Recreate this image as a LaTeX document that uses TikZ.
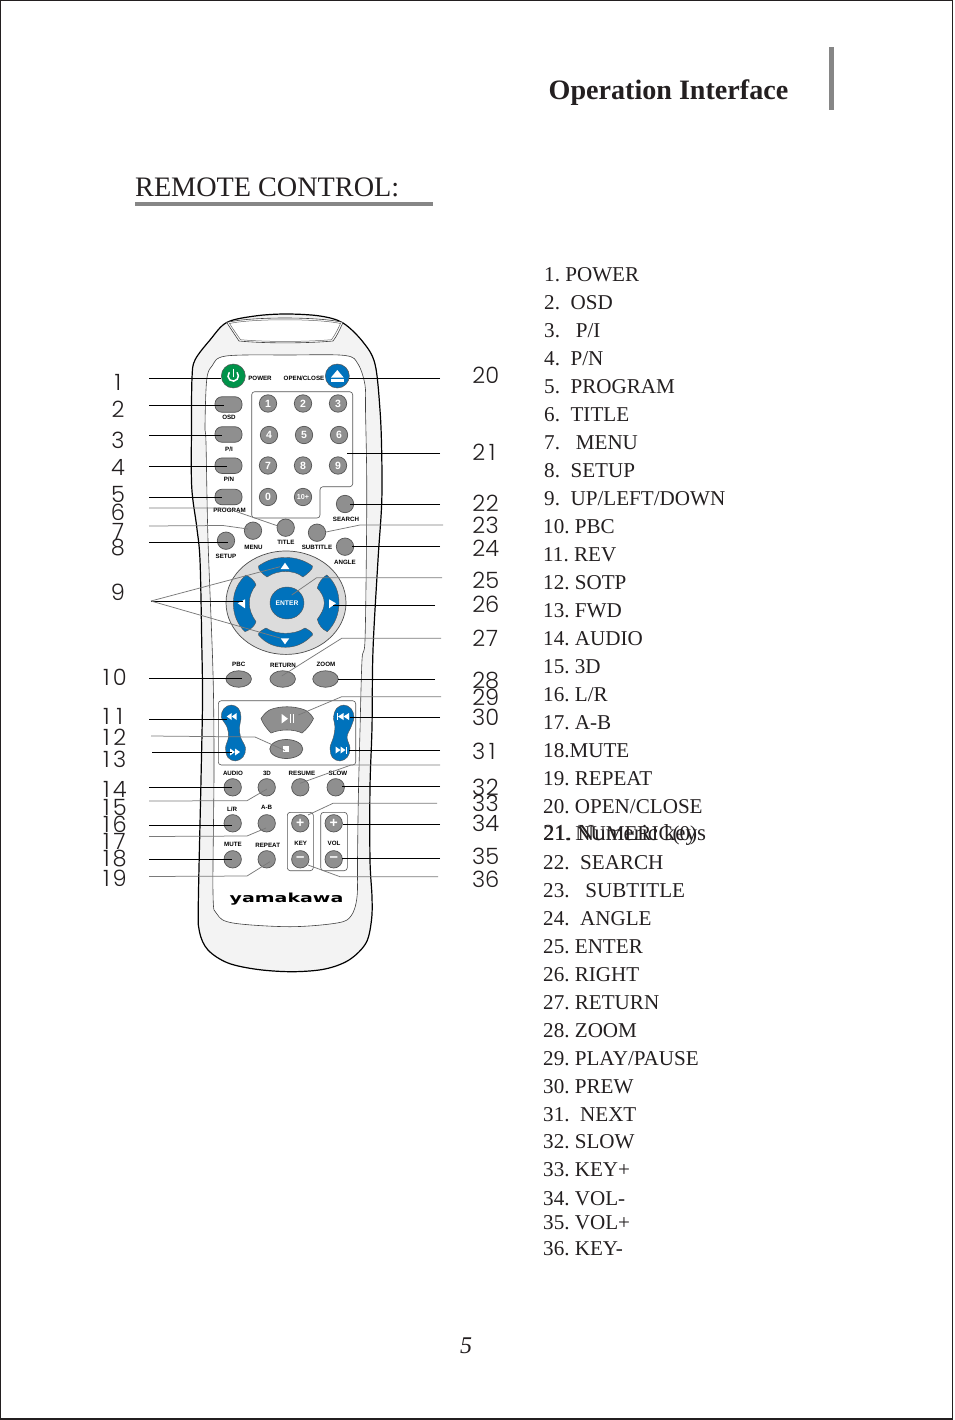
\documentclass[tikz,border=0pt]{standalone}
\usepackage{fontspec}
\usepackage{graphicx}
\setmainfont{Liberation Serif}
\newfontfamily\numf{Poppins Light}
\newfontfamily\sansf{Liberation Sans}
\newfontfamily\logof{DejaVu Sans}
\definecolor{ink}{HTML}{231F20}
\definecolor{btnfill}{HTML}{8F8F8F}
\definecolor{btnline}{HTML}{555555}
\definecolor{bodyfill}{HTML}{F3F3F3}
\definecolor{remblue}{HTML}{0072BC}
\definecolor{remgreen}{HTML}{00934A}
\definecolor{padfill}{HTML}{DCDCDC}
\definecolor{barfill}{HTML}{868686}
\newcommand\fs[1]{\fontsize{#1}{#1}\selectfont}
\newcommand\dg[1]{\makebox[13.4pt]{#1}}
\tikzset{
  listitem/.style={anchor=base west,inner sep=0pt,text=ink,font=\frenchspacing\fs{21.1}},
  numlabel/.style={inner sep=0pt,text=ink,font=\numf\fs{22.5}},
  tiny/.style={inner sep=0pt,text=black,font=\sansf\bfseries\fs{6.2}},
  roundbtn/.style={circle,draw=btnline,fill=btnfill,line width=.7pt,minimum size=17.4pt,inner sep=0pt,text=white,font=\sansf\bfseries\fs{10.5}},
  pillbtn/.style={rectangle,rounded corners=7pt,draw=btnline,fill=btnfill,line width=.7pt,minimum width=27pt,minimum height=15.5pt,inner sep=0pt},
  ovalbtn/.style={ellipse,draw=btnline,fill=btnfill,line width=.7pt,minimum width=25.5pt,minimum height=16.5pt,inner sep=0pt},
  bluekey/.style={fill=remblue,draw=btnline,line width=.4pt},
  whiteglyph/.style={fill=white,draw=none},
  panel/.style={draw=btnline,line width=.6pt,rounded corners=3pt},
  leadblack/.style={draw=black,line width=.75pt},
  leadgray/.style={draw=black!52,line width=.75pt},
}
\usetikzlibrary{shapes.geometric}
\newcommand\li[4]{\node[listitem] (item#1) at (#2,#3) {#4};}
\newcommand\nm[3]{\node[numlabel] (n#1) at #2 {#3};}
\newcommand\ld[4]{\coordinate (s#1) at #3; \coordinate (e#1) at #4; \draw[#2] (s#1) -- (e#1);}
\newcommand\lv[5]{\coordinate (s#1) at #3; \coordinate (m#1) at #4; \coordinate (e#1) at #5; \draw[#2,line join=round] (s#1) -- (m#1) -- (e#1);}
\begin{document}
\begin{tikzpicture}[x=1pt,y=-1pt]
\useasboundingbox (0,0) rectangle (954,1420);
\draw[draw=ink,line width=1.1pt] (0.6,0.6) rectangle (952.6,1419);

% header
\node[anchor=base west,inner sep=0pt,text=ink,font=\bfseries\fs{28.1}] (title) at (548.5,100) {Operation Interface};
\fill[barfill] (829,47) rectangle (834,110);
\node[anchor=base west,inner sep=0pt,text=ink,font=\fs{28.2}] (heading) at (135,197) {REMOTE CONTROL:};
\fill[barfill] (135,202) rectangle (433,205.8);
\node[anchor=base,inner sep=0pt,text=ink,font=\itshape\fs{24}] (page) at (466,1353) {5};

% list
\li{1}{544}{281.5}{1. POWER}
\li{2}{544}{309}{2.\ \ OSD}
\li{3}{544}{337}{3.\ \ \ P/I}
\li{4}{544}{365}{4.\ \ P/N}
\li{5}{544}{393}{5.\ \ PROGRAM}
\li{6}{544}{421}{6.\ \ TITLE}
\li{7}{544}{449}{7.\ \ \ MENU}
\li{8}{544}{477}{8.\ \ SETUP}
\li{9}{544}{505}{9.\ \ UP/LEFT/DOWN}
\li{10}{543}{533}{10. PBC}
\li{11}{543}{561}{11. REV}
\li{12}{543}{589}{12. SOTP}
\li{13}{543}{617}{13. FWD}
\li{14}{543}{645}{14. AUDIO}
\li{15}{543}{673}{15. 3D}
\li{16}{543}{701}{16. L/R}
\li{17}{543}{729}{17. A-B}
\li{18}{543}{757}{18.MUTE}
\li{19}{543}{785}{19. REPEAT}
\li{20}{543}{813}{20. OPEN/CLOSE}
\node[listitem,font=\frenchspacing\fs{23}] (item21a) at (543,840) {21. Numeric keys};
\li{21b}{543.5}{840}{21. NUMERIC(0)}
\li{22}{543}{869}{22.\ \ SEARCH}
\li{23}{543}{897}{23.\ \ \ SUBTITLE}
\li{24}{543}{925}{24.\ \ ANGLE}
\li{25}{543}{953}{25. ENTER}
\li{26}{543}{981}{26. RIGHT}
\li{27}{543}{1009}{27. RETURN}
\li{28}{543}{1037}{28. ZOOM}
\li{29}{543}{1065}{29. PLAY/PAUSE}
\li{30}{543}{1093}{30. PREW}
\li{31}{543}{1121}{31.\ \ NEXT}
\li{32}{543}{1148}{32. SLOW}
\li{33}{543}{1176}{33. KEY+}
\li{34}{543}{1205}{34. VOL-}
\li{35}{543}{1229}{35. VOL+}
\li{36}{543}{1255}{36. KEY-}

% remote body
\draw[fill=bodyfill,draw=black,line width=1.2pt] plot[smooth cycle,tension=.55] coordinates {
 (286,314) (320,316) (343,323) (363,342) (375,364) (380,410) (381.7,453) (381.7,503) (378,560) (373,650) (372,727) (370,787) (370,860) (372,897) (371.5,920) (366,943) (349,960) (325,969) (293,971.7) (258,969.5) (228,963) (208,950) (199.5,932) (198.3,905) (201,780) (202.5,700) (201.7,640) (200,560) (196.7,526.7) (191.7,486.7) (191.5,426) (192,378) (195,360) (210,340) (226.7,322.5) (255,316)};
\draw[fill=white,draw=black!75,line width=.6pt] plot[smooth cycle,tension=.55] coordinates {
 (290,355) (345,355.5) (358,364) (365,385) (365.5,410) (366.7,476) (366.5,540) (365,640) (362,660) (360,730) (358.3,800) (357.5,860) (357,897) (351,916) (337,923) (290,926.7) (233,923) (217,914) (213,893) (214,770) (213,673) (208,540) (206,443) (205,426) (206.7,380) (212,366) (226,356)};
% battery cap
\draw[fill=white,draw=black!75,line width=.6pt] (226.7,322.5) .. controls (250,316.5) and (320,316.5) .. (343,322.5) .. controls (340,329) and (337,336) .. (333,341) .. controls (305,343.5) and (265,343.5) .. (239,341) .. controls (235,335) and (231,329) .. cycle;
\draw[draw=black!60,line width=.5pt] (229.5,323.5) .. controls (252,318.5) and (318,318.5) .. (340.5,323.5) .. controls (338,329) and (335,335) .. (331.5,339.7) .. controls (305,342) and (265,342) .. (240.5,339.7) .. controls (236.5,334) and (233,329) .. cycle;

% panels
\draw[panel] (251.7,391.7) -- (352.7,391.7) -- (352.7,486.7) -- (320,486.7) -- (320,518) -- (251.7,518) -- cycle;
\draw[panel] (218.3,700.7) rectangle (355.7,765);
\draw[panel] (287.3,812.3) rectangle (313.3,870.7);
\draw[panel] (320.7,812.3) rectangle (347.3,870.7);

% top buttons
\node[circle,fill=remgreen,draw=btnline,line width=.5pt,minimum size=24pt,inner sep=0pt] (power) at (233.3,376) {};
\draw[white,line width=1.5pt,line cap=round] (229.2,372.6) arc[start angle=220,end angle=-40,radius=5.2];
\draw[white,line width=1.5pt,line cap=round] (233.3,369.5) -- (233.3,376.5);
\node[circle,fill=remblue,draw=btnline,line width=.5pt,minimum size=24pt,inner sep=0pt] (eject) at (337.3,376) {};
\fill[white] (331,377.5) -- (337.3,370) -- (343.6,377.5) -- cycle;
\fill[white] (331,379) rectangle (343.6,381.5);
\node[pillbtn] (osd) at (228.5,404.5) {};
\node[pillbtn] (pi) at (228.5,434.5) {};
\node[pillbtn] (pn) at (228.5,465.7) {};
\node[pillbtn] (program) at (228.5,497) {};

% keypad
\node[roundbtn] (k1) at (268,403.5) {1};
\node[roundbtn] (k2) at (303,403.5) {2};
\node[roundbtn] (k3) at (338,403.5) {3};
\node[roundbtn] (k4) at (269,435) {4};
\node[roundbtn] (k5) at (304,435) {5};
\node[roundbtn] (k6) at (339,435) {6};
\node[roundbtn] (k7) at (268,465.5) {7};
\node[roundbtn] (k8) at (303,465.5) {8};
\node[roundbtn] (k9) at (338,465.5) {9};
\node[roundbtn] (k0) at (268,497) {0};
\node[roundbtn,font=\sansf\bfseries\fs{7.2}] (k10) at (303,497) {10+};

\node[roundbtn] (search) at (345,504) {};
\node[roundbtn] (titlekey) at (285.7,527.7) {};
\node[roundbtn] (menu) at (253,530.7) {};
\node[roundbtn] (subtitle) at (317,532.7) {};
\node[roundbtn] (setup) at (226,540.7) {};
\node[roundbtn] (angle) at (345,546.7) {};

% D-pad
\node[ellipse,fill=padfill,draw=black!70,line width=.7pt,minimum width=120pt,minimum height=103.4pt,inner sep=0pt] (dpad) at (286,602.7) {};
\draw[bluekey] (258.5,566) .. controls (268,559.5) and (276,557.5) .. (285.5,557.5) .. controls (295,557.5) and (304,560) .. (312.5,566) .. controls (313.5,569) and (307,574) .. (303,577) .. controls (298,573) and (292,571.5) .. (285.5,571.5) .. controls (279,571.5) and (273,573) .. (267,577) .. controls (263,574) and (257.5,570) .. cycle;
\draw[bluekey] (258.5,635) .. controls (257.5,633) and (262,630) .. (266,628) .. controls (272,632) and (279,633.3) .. (285.5,633.3) .. controls (292,633.3) and (299,632) .. (305,628) .. controls (309,630) and (313.5,633) .. (312.5,635) .. controls (304,644) and (295,647.3) .. (285.5,647.3) .. controls (276,647.3) and (266,644) .. cycle;
\draw[bluekey] (246,575) .. controls (250,577) and (255,581) .. (256,585) .. controls (252,590) and (249.3,596) .. (249.3,603) .. controls (249.3,610) and (252,616) .. (256,621.7) .. controls (255,626) and (250,630) .. (245,631.7) .. controls (237,624) and (233.3,614) .. (233.3,603) .. controls (233.3,592) and (238,582) .. cycle;
\draw[bluekey] (326.7,575) .. controls (322,578) and (318.5,583) .. (317.3,588) .. controls (321,592) and (324.3,597) .. (324.3,603) .. controls (324.3,609) and (321,614) .. (317.3,619.3) .. controls (318.5,625) and (322.5,629.5) .. (327.3,631.7) .. controls (335,624) and (339,614) .. (339,603) .. controls (339,592) and (335,582) .. cycle;
\fill[white] (280.7,569) -- (285,562.7) -- (289.3,569) -- cycle;
\fill[white] (280.7,638.3) -- (285,644.3) -- (289.3,638.3) -- cycle;
\fill[white] (237.7,603.3) -- (245,599.3) -- (245,608.3) -- cycle;
\fill[white] (336,603.3) -- (329,599.3) -- (329,608.3) -- cycle;
\node[ellipse,fill=remblue,draw=btnline,line width=.4pt,minimum width=34pt,minimum height=32pt,inner sep=0pt,text=white,font=\sansf\bfseries\fs{6.7}] (enter) at (287,603) {ENTER};
\coordinate (upglyph) at (280,566.7);
\coordinate (downglyph) at (280,638);
\coordinate (leftglyph) at (243,601);

% PBC row
\node[ovalbtn] (pbc) at (238.7,679) {};
\node[ovalbtn] (return) at (282.7,679) {};
\node[ovalbtn] (zoom) at (325.5,679) {};

% transport
\draw[bluekey] plot[smooth cycle,tension=.6] coordinates {(231.3,705) (238.5,708.5) (241,717) (239.5,727) (240.5,737) (245.5,748) (243,757) (235.5,761) (228,757.5) (225.5,748) (228.5,737) (227,727) (221.3,717) (224,708.5)};
\draw[bluekey] plot[smooth cycle,tension=.6] coordinates {(343.7,705) (351,708.5) (354,717) (351,727) (347,737) (350,748) (347.5,757) (340,761) (332.5,757.5) (330,748) (333.5,737) (335,727) (333.5,717) (336.5,708.5)};
\fill[white] (226.7,716.5) -- (231.7,713) -- (231.7,720) -- cycle;
\fill[white] (231.7,716.5) -- (236.7,713) -- (236.7,720) -- cycle;
\fill[white] (235,752) -- (230,748.5) -- (230,755.5) -- cycle;
\fill[white] (240,752) -- (235,748.5) -- (235,755.5) -- cycle;
\fill[white] (336.7,713) rectangle (337.7,720);
\fill[white] (338,716.5) -- (343.5,713) -- (343.5,720) -- cycle;
\fill[white] (343.5,716.5) -- (349,713) -- (349,720) -- cycle;
\fill[white] (340.5,750) -- (335.5,746.5) -- (335.5,753.5) -- cycle;
\fill[white] (345.5,750) -- (340.5,746.5) -- (340.5,753.5) -- cycle;
\fill[white] (346,746.5) rectangle (347,753.5);
\draw[fill=btnfill,draw=btnline,line width=.6pt] (261,718.5) .. controls (264,714) and (268,710) .. (272,709) .. controls (282,706) and (292,706) .. (302,709) .. controls (307,710) and (311,714) .. (313.5,718.5) .. controls (311,724) and (307,729) .. (302,733) .. controls (294,729) and (280,729) .. (271,733) .. controls (267,729) and (263,724) .. cycle;
\fill[white] (281.7,714) -- (287.9,718.7) -- (281.7,723.4) -- cycle;
\fill[white] (289.6,714) rectangle (290.4,723.4);
\fill[white] (292.6,714) rectangle (293.4,723.4);
\coordinate (playkey) at (298.3,715);
\node[ellipse,draw=btnline,fill=btnfill,line width=.7pt,minimum width=33pt,minimum height=19pt,inner sep=0pt] (stop) at (286.3,749) {};
\fill[white] (283.3,746) rectangle (289.3,752);

% lower buttons
\node[roundbtn] (audio) at (232.7,787.3) {};
\node[roundbtn] (threed) at (266.7,787.3) {};
\node[roundbtn] (resume) at (300.3,787.3) {};
\node[roundbtn] (slow) at (335.7,787.3) {};
\node[roundbtn] (lr) at (232.7,823.3) {};
\node[roundbtn] (ab) at (266.7,823.3) {};
\node[roundbtn,font=\sansf\bfseries\fs{14}] (keyp) at (300.3,823.3) {+};
\node[roundbtn,font=\sansf\bfseries\fs{14}] (volp) at (333.7,823.3) {+};
\node[roundbtn] (mute) at (232.7,859.3) {};
\node[roundbtn] (repeat) at (266.7,859.3) {};
\node[roundbtn,font=\sansf\bfseries\fs{15}] (keym) at (300.3,859.3) {–};
\node[roundbtn,font=\sansf\bfseries\fs{15}] (volm) at (333.7,859.3) {–};

% small labels
\node[tiny] (tpower) at (260,378) {POWER};
\node[tiny] (topen) at (304,378) {OPEN/CLOSE};
\node[tiny] (tosd) at (229,417.7) {OSD};
\node[tiny] (tpi) at (229,449) {P/I};
\node[tiny] (tpn) at (229,479.5) {P/N};
\node[tiny] (tprog) at (229.5,510) {PROGRAM};
\node[tiny] (tsearch) at (346,519.5) {SEARCH};
\node[tiny] (tmenu) at (253.5,547) {MENU};
\node[tiny] (ttitle) at (286,542) {TITLE};
\node[tiny] (tsub) at (317,547) {SUBTITLE};
\node[tiny] (tsetup) at (226,556) {SETUP};
\node[tiny] (tangle) at (345,562) {ANGLE};
\node[tiny] (tpbc) at (238.7,664.5) {PBC};
\node[tiny] (treturn) at (283,665.5) {RETURN};
\node[tiny] (tzoom) at (326,664.5) {ZOOM};
\node[tiny] (taudio) at (233,773) {AUDIO};
\node[tiny] (t3d) at (267,773) {3D};
\node[tiny] (tresume) at (302,773.5) {RESUME};
\node[tiny] (tslow) at (338,773) {SLOW};
\node[tiny] (tlr) at (232,809) {L/R};
\node[tiny] (tab) at (266.7,807.7) {A-B};
\node[tiny] (tmute) at (233,844) {MUTE};
\node[tiny] (trepeat) at (267.7,845) {REPEAT};
\node[tiny] (tkey) at (300.7,843) {KEY};
\node[tiny] (tvol) at (334,843) {VOL};
\node[inner sep=0pt,text=black,font=\logof\bfseries\fs{12.5}] (logo) at (286.5,899) {\scalebox{1.52}[1]{yamakawa}};

% left numbers
\nm{1}{(118,382)}{1}
\nm{2}{(118,409.5)}{2}
\nm{3}{(118,440)}{3}
\nm{4}{(118,467)}{4}
\nm{5}{(118,494)}{5}
\nm{6}{(118,512.5)}{6}
\nm{7}{(118,531)}{7}
\nm{8}{(118,547.5)}{8}
\nm{9}{(118,592.5)}{9}
\nm{10}{(113,677.5)}{\dg{1}\dg{0}}
\nm{11}{(113,716)}{\dg{1}\dg{1}}
\nm{12}{(113,737.5)}{\dg{1}\dg{2}}
\nm{13}{(113,759)}{\dg{1}\dg{3}}
\nm{14}{(113,789)}{\dg{1}\dg{4}}
\nm{15}{(113,807)}{\dg{1}\dg{5}}
\nm{16}{(113,824)}{\dg{1}\dg{6}}
\nm{17}{(113,841)}{\dg{1}\dg{7}}
\nm{18}{(113,859)}{\dg{1}\dg{8}}
\nm{19}{(113,878)}{\dg{1}\dg{9}}
% right numbers
\nm{20}{(485.5,375)}{\dg{2}\dg{0}}
\nm{21}{(485.5,452)}{\dg{2}\dg{1}}
\nm{22}{(485.5,503)}{\dg{2}\dg{2}}
\nm{23}{(485.5,525)}{\dg{2}\dg{3}}
\nm{24}{(485.5,548)}{\dg{2}\dg{4}}
\nm{25}{(485.5,580)}{\dg{2}\dg{5}}
\nm{26}{(485.5,604)}{\dg{2}\dg{6}}
\nm{27}{(485.5,638)}{\dg{2}\dg{7}}
\nm{28}{(485.5,681)}{\dg{2}\dg{8}}
\nm{29}{(485.5,697)}{\dg{2}\dg{9}}
\nm{30}{(485.5,717)}{\dg{3}\dg{0}}
\nm{31}{(485.5,751)}{\dg{3}\dg{1}}
\nm{32}{(485.5,787)}{\dg{3}\dg{2}}
\nm{33}{(485.5,803)}{\dg{3}\dg{3}}
\nm{34}{(485.5,823)}{\dg{3}\dg{4}}
\nm{35}{(485.5,856)}{\dg{3}\dg{5}}
\nm{36}{(485.5,879)}{\dg{3}\dg{6}}

% leaders, left
\ld{1}{leadblack}{(149,378)}{(221,378)}
\ld{2}{leadblack}{(149,405)}{(224,405)}
\ld{3}{leadblack}{(149,435)}{(222,435)}
\ld{4}{leadblack}{(149,466)}{(227,466)}
\ld{5}{leadblack}{(149,497)}{(222,497)}
\coordinate (s6) at (149,508); \coordinate (m6) at (226,508); \coordinate (e6) at (278,526);
\draw[leadgray,line join=round] (s6) -- (m6) -- (e6);
\lv{7}{leadgray}{(149,526)}{(223,525.5)}{(248,529)}
\ld{8}{leadblack}{(149,542)}{(228,542)}
\coordinate (s9) at (151,601);
\draw[leadgray] (s9) -- (upglyph);
\draw[leadblack] (s9) -- (leftglyph);
\draw[leadgray] (s9) -- (downglyph);
\ld{10}{leadblack}{(149,678)}{(242,678)}
\ld{11}{leadblack}{(149,719)}{(226.7,719)}
\lv{12}{leadgray}{(151,736)}{(255,737)}{(285,750.5)}
\ld{13}{leadblack}{(152,752.3)}{(231.7,752.3)}
\ld{14}{leadblack}{(149,787)}{(232,787)}
\lv{15}{leadgray}{(149,801)}{(247,800.7)}{(267,789)}
\ld{16}{leadblack}{(149,825)}{(232,825)}
\lv{17}{leadgray}{(149,836.5)}{(247,836)}{(266,828)}
\ld{18}{leadblack}{(149,859)}{(232,859)}
\lv{19}{leadgray}{(149,876.5)}{(247,876)}{(270,861.7)}
% leaders, right
\ld{20}{leadblack}{(440,378)}{(349,378)}
\ld{21}{leadblack}{(440,453.3)}{(346.7,453.3)}
\ld{22}{leadblack}{(440,504)}{(350,504)}
\lv{23}{leadgray}{(443,525)}{(360,525)}{(326,532)}
\ld{24}{leadblack}{(440,546.5)}{(352,546.5)}
\lv{25}{leadgray}{(442,577.7)}{(316.7,577.7)}{(291.7,595)}
\ld{26}{leadblack}{(435,605)}{(333,605)}
\lv{27}{leadgray}{(441,638.3)}{(341.7,638.3)}{(281.7,676)}
\ld{28}{leadblack}{(435,679)}{(338.3,679)}
\coordinate (s29) at (441,696.7); \coordinate (m29) at (341.7,696.7);
\draw[leadgray,line join=round] (s29) -- (m29) -- (playkey);
\ld{30}{leadblack}{(440,717)}{(350,717)}
\ld{31}{leadblack}{(440,750.5)}{(349,750.5)}
\lv{res}{leadgray}{(440,765)}{(351,765)}{(300,783.3)}
\ld{32}{leadblack}{(440,786)}{(342,786)}
\lv{33}{leadgray}{(437,803.3)}{(333,803.3)}{(308,815)}
\ld{34}{leadblack}{(440,824)}{(343,824)}
\ld{35}{leadblack}{(440,858.5)}{(342,858.5)}
\lv{36}{leadgray}{(438,876.7)}{(340,876.7)}{(308,865)}
\end{tikzpicture}
\end{document}
